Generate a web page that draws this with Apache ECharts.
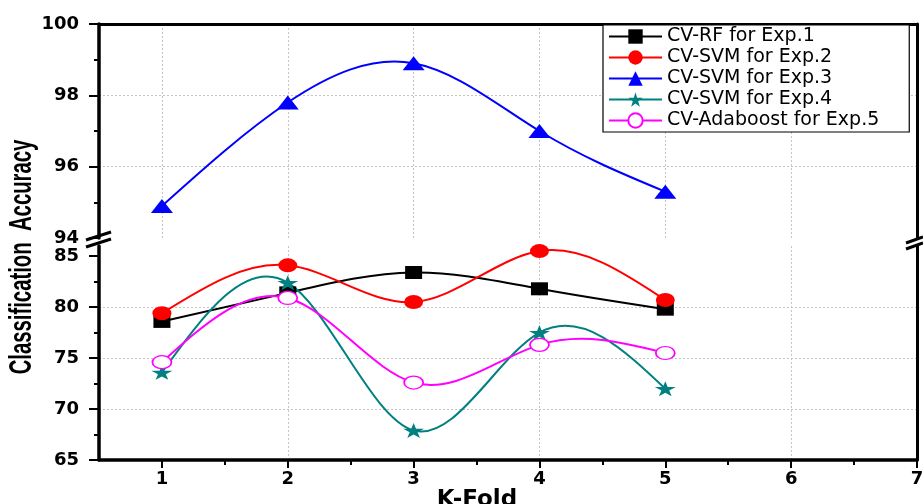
<!DOCTYPE html>
<html>
<head>
<meta charset="utf-8">
<script src="https://cdn.jsdelivr.net/npm/echarts@6/dist/echarts.min.js"></script>
<style>
  html, body { margin: 0; padding: 0; background: #fff; }
  #chart { width: 923px; height: 504px; }
</style>
</head>
<body>
<div id="chart"></div>
<script>
// K-fold index on the x axis
const kFolds = [1, 2, 3, 4, 5];

// Classification accuracy (%) per fold
const rfExp1 = [78.6, 81.4, 83.4, 81.8, 79.8];
const svmExp2 = [79.4, 84.1, 80.5, 85.5, 80.7];
const svmExp3 = [94.9, 97.8, 98.9, 97.0, 95.3];
const svmExp4 = [73.6, 82.4, 67.9, 77.5, 72.0];
const adaExp5 = [74.6, 80.9, 72.6, 76.3, 75.5];

const seriesNames = ['CV-RF for Exp.1', 'CV-SVM for Exp.2', 'CV-SVM for Exp.3', 'CV-SVM for Exp.4', 'CV-Adaboost for Exp.5'];
const seriesColors = ['#000000', '#ff0000', '#0000ff', '#008080', '#ff00ff'];

// Tick positions
const xTicks = [1, 2, 3, 4, 5, 6, 7];
const xMinorTicks = [1.5, 2.5, 3.5, 4.5, 5.5, 6.5];
const lowerYTicks = [65, 70, 75, 80, 85];
const lowerYMinorTicks = [67.5, 72.5, 77.5, 82.5];

const pairs = (vals) => kFolds.map((k, i) => [k, vals[i]]);

const ELLIPSE = 'path://M0,50 A50,50 0 1,1 100,50 A50,50 0 1,1 0,50 Z';
const STAR = 'path://M50,0 L61,35 L98,35 L68,57 L79,91 L50,70 L21,91 L32,57 L2,35 L39,35 Z';

const GRID_GRAY = '#c4c4c4';
const tickFont = { color: '#000', fontFamily: 'DejaVu Sans', fontWeight: 'bold', fontSize: 18 };

// Natural cubic spline through pixel points (uniform x spacing), as Bezier segments
function splineSegments(pts) {
  const n = pts.length - 1;
  const M = new Array(n + 1).fill(0);
  if (n >= 2) {
    const m = n - 1;
    const cp = new Array(m), dp = new Array(m);
    const h0 = pts[1][0] - pts[0][0];
    for (let j = 0; j < m; j++) {
      const i = j + 1;
      const rhs = 6 * (pts[i - 1][1] - 2 * pts[i][1] + pts[i + 1][1]) / (h0 * h0);
      if (j === 0) { cp[j] = 1 / 4; dp[j] = rhs / 4; }
      else {
        const den = 4 - cp[j - 1];
        cp[j] = 1 / den;
        dp[j] = (rhs - dp[j - 1]) / den;
      }
    }
    M[m] = dp[m - 1];
    for (let j = m - 2; j >= 0; j--) M[j + 1] = dp[j] - cp[j] * M[j + 2];
  }
  const D = new Array(n + 1);
  for (let i = 0; i < n; i++) {
    const h = pts[i + 1][0] - pts[i][0];
    D[i] = (pts[i + 1][1] - pts[i][1]) / h - h * (2 * M[i] + M[i + 1]) / 6;
  }
  {
    const h = pts[n][0] - pts[n - 1][0];
    D[n] = (pts[n][1] - pts[n - 1][1]) / h + h * (M[n - 1] + 2 * M[n]) / 6;
  }
  const segs = [];
  for (let i = 0; i < n; i++) {
    const h = pts[i + 1][0] - pts[i][0];
    segs.push({
      x1: pts[i][0], y1: pts[i][1],
      cpx1: pts[i][0] + h / 3, cpy1: pts[i][1] + D[i] * h / 3,
      cpx2: pts[i + 1][0] - h / 3, cpy2: pts[i + 1][1] - D[i + 1] * h / 3,
      x2: pts[i + 1][0], y2: pts[i + 1][1]
    });
  }
  return segs;
}

// Spline connector drawn through the axes' own coordinate mapping
function curveSeries(vals, color, xi, yi) {
  return {
    type: 'custom',
    xAxisIndex: xi,
    yAxisIndex: yi,
    data: pairs(vals),
    silent: true,
    clip: false,
    z: 2,
    renderItem: function (params, api) {
      if (params.dataIndex !== 0) return null;
      const pts = kFolds.map((k, i) => api.coord([k, vals[i]]));
      return {
        type: 'group',
        children: splineSegments(pts).map(s => ({
          type: 'bezierCurve',
          shape: s,
          style: { fill: null, stroke: color, lineWidth: 2 }
        }))
      };
    }
  };
}

// Markers for each data point
function markerSeries(name, vals, color, symbol, size, xi, yi, extraItem) {
  return {
    name: name,
    type: 'line',
    xAxisIndex: xi,
    yAxisIndex: yi,
    data: pairs(vals),
    symbol: symbol,
    symbolSize: size,
    showAllSymbol: true,
    clip: false,
    lineStyle: { color: color, width: 2, opacity: 0 },
    itemStyle: Object.assign({ color: color, opacity: 1 }, extraItem || {}),
    emphasis: { disabled: true },
    z: 3
  };
}

const option = {
  backgroundColor: '#fff',
  animation: false,
  grid: [
    { left: 99, right: 6, top: 24, height: 214, outerBoundsMode: 'none', containLabel: false },
    { left: 99, right: 6, top: 246, height: 214, outerBoundsMode: 'none', containLabel: false }
  ],
  xAxis: [
    // upper panel: frame line on top plus vertical grid lines
    {
      gridIndex: 0, type: 'value', position: 'top', min: 0.5, max: 7, interval: 0.5,
      axisLine: { show: true, onZero: false, lineStyle: { color: '#000', width: 3 } },
      axisTick: { show: false }, axisLabel: { show: false },
      splitLine: { show: true, showMinLine: false, showMaxLine: false,
        lineStyle: { color: [GRID_GRAY, 'rgba(0,0,0,0)'], type: [2, 2], width: 1 } }
    },
    // lower panel: main K-Fold axis
    {
      gridIndex: 1, type: 'value', position: 'bottom', min: 0.5, max: 7, interval: 0.5,
      name: 'K-Fold', nameLocation: 'middle', nameGap: 27,
      nameTextStyle: { color: '#000', fontFamily: 'DejaVu Sans', fontWeight: 'bold', fontSize: 23, padding: [0, 62, 0, 0] },
      axisLine: { show: true, onZero: false, lineStyle: { color: '#000', width: 3.5 } },
      axisTick: { show: true, inside: false, length: 8, customValues: xTicks, lineStyle: { color: '#000', width: 2 } },
      axisLabel: Object.assign({ show: true, margin: 10, customValues: xTicks }, tickFont),
      splitLine: { show: true, showMinLine: false, showMaxLine: false,
        lineStyle: { color: [GRID_GRAY, 'rgba(0,0,0,0)'], type: [2, 2], width: 1 } }
    },
    // lower panel: minor x ticks
    {
      gridIndex: 1, type: 'value', position: 'bottom', min: 0.5, max: 7,
      axisLine: { show: false, onZero: false },
      axisTick: { show: true, inside: false, length: 5, customValues: xMinorTicks, lineStyle: { color: '#000', width: 2 } },
      axisLabel: { show: false }, splitLine: { show: false }
    }
  ],
  yAxis: [
    // upper panel left axis
    {
      gridIndex: 0, type: 'value', position: 'left', min: 94, max: 100, interval: 2,
      axisLine: { show: true, onZero: false, lineStyle: { color: '#000', width: 3.5 } },
      axisTick: { show: true, inside: false, length: 10, lineStyle: { color: '#000', width: 2 } },
      minorTick: { show: true, splitNumber: 2, length: 5, lineStyle: { color: '#000', width: 2 } },
      axisLabel: Object.assign({ show: true, margin: 20 }, tickFont),
      splitLine: { show: true, showMinLine: false, showMaxLine: false,
        lineStyle: { color: GRID_GRAY, type: [2, 2], width: 1 } }
    },
    // upper panel right frame
    {
      gridIndex: 0, type: 'value', position: 'right', min: 94, max: 100,
      axisLine: { show: true, onZero: false, lineStyle: { color: '#000', width: 3 } },
      axisTick: { show: false }, axisLabel: { show: false }, splitLine: { show: false }
    },
    // lower panel left axis
    {
      gridIndex: 1, type: 'value', position: 'left', min: 65, max: 86, interval: 5,
      axisLine: { show: true, onZero: false, lineStyle: { color: '#000', width: 3.5 } },
      axisTick: { show: true, inside: false, length: 10, customValues: lowerYTicks, lineStyle: { color: '#000', width: 2 } },
      axisLabel: Object.assign({ show: true, margin: 20, customValues: lowerYTicks }, tickFont),
      splitLine: { show: true, showMinLine: false, showMaxLine: false,
        lineStyle: { color: GRID_GRAY, type: [2, 2], width: 1 } }
    },
    // lower panel minor y ticks
    {
      gridIndex: 1, type: 'value', position: 'left', min: 65, max: 86,
      axisLine: { show: false, onZero: false },
      axisTick: { show: true, inside: false, length: 5, customValues: lowerYMinorTicks, lineStyle: { color: '#000', width: 2 } },
      axisLabel: { show: false }, splitLine: { show: false }
    },
    // lower panel right frame
    {
      gridIndex: 1, type: 'value', position: 'right', min: 65, max: 86,
      axisLine: { show: true, onZero: false, lineStyle: { color: '#000', width: 3 } },
      axisTick: { show: false }, axisLabel: { show: false }, splitLine: { show: false }
    }
  ],
  legend: {
    orient: 'vertical',
    left: 603, top: 25,
    data: seriesNames.map((n, i) => ({
      name: n,
      lineStyle: { color: seriesColors[i], width: 2, opacity: 1 }
    })),
    itemWidth: 53, itemHeight: 18, itemGap: 0,
    padding: [1, 30, 1, 5],
    borderColor: '#000', borderWidth: 1.2,
    backgroundColor: '#fff',
    textStyle: { color: '#000', fontFamily: 'DejaVu Sans', fontSize: 19, lineHeight: 21 },
    selectedMode: false
  },
  series: [
    curveSeries(rfExp1, seriesColors[0], 1, 2),
    curveSeries(svmExp2, seriesColors[1], 1, 2),
    curveSeries(svmExp3, seriesColors[2], 0, 0),
    curveSeries(svmExp4, seriesColors[3], 1, 2),
    curveSeries(adaExp5, seriesColors[4], 1, 2),
    markerSeries(seriesNames[0], rfExp1, seriesColors[0], 'rect', [17, 13], 1, 2),
    markerSeries(seriesNames[1], svmExp2, seriesColors[1], ELLIPSE, [19, 14], 1, 2),
    markerSeries(seriesNames[2], svmExp3, seriesColors[2], 'triangle', [22, 14], 0, 0),
    markerSeries(seriesNames[3], svmExp4, seriesColors[3], STAR, [21, 15], 1, 2),
    markerSeries(seriesNames[4], adaExp5, seriesColors[4], ELLIPSE, [19, 13], 1, 2,
      { color: '#ffffff', borderColor: '#ff00ff', borderWidth: 1.5 })
  ],
  graphic: [
    // vertical axis title
    {
      type: 'text', x: 22, y: 257, rotation: Math.PI / 2, scaleX: 0.655, scaleY: 1,
      style: { text: 'Classification  Accuracy', fill: '#000', font: 'bold 31px "Liberation Sans"',
        textAlign: 'center', textVerticalAlign: 'middle' }
    },
    // axis break marks, left
    { type: 'line', shape: { x1: 86, y1: 240, x2: 111, y2: 232 }, style: { stroke: '#000', lineWidth: 3 } },
    { type: 'line', shape: { x1: 86, y1: 247, x2: 111, y2: 239 }, style: { stroke: '#000', lineWidth: 3 } },
    // axis break marks, right
    { type: 'line', shape: { x1: 906, y1: 243, x2: 923, y2: 237 }, style: { stroke: '#000', lineWidth: 3 } },
    { type: 'line', shape: { x1: 906, y1: 249, x2: 923, y2: 243 }, style: { stroke: '#000', lineWidth: 3 } }
  ]
};

const chart = echarts.init(document.getElementById('chart'), null, { renderer: 'canvas' });
chart.setOption(option);
</script>
</body>
</html>
